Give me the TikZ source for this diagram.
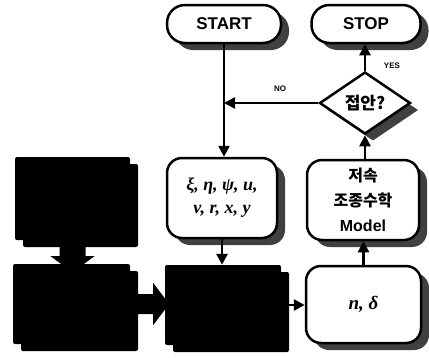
\documentclass[tikz,border=0pt]{standalone}
\usepackage{fontspec}
\setmainfont{Liberation Sans}
\newfontfamily\kr{Noto Sans CJK KR}
\newfontfamily\tms{Liberation Serif}
\usetikzlibrary{shapes.geometric,shadows,arrows.meta}
\begin{document}
\begin{tikzpicture}[x=1pt,y=-1pt,
  shad/.style={drop shadow={shadow xshift=8pt,shadow yshift=-7pt,fill=black!75,opacity=1}},
  term/.style={draw,line width=2.5pt,rounded corners=18pt,fill=white,shad,minimum width=114pt,minimum height=38pt,inner sep=0pt,font=\bfseries\fontsize{17}{18}\selectfont},
  proc/.style={draw,line width=2.5pt,rounded corners=15pt,fill=white,shad,align=center,inner sep=0pt},
  blk/.style={fill=black,inner sep=0pt,rounded corners=2pt,drop shadow={shadow xshift=8pt,shadow yshift=-7pt,fill=black,opacity=1}},
  dec/.style={diamond,draw,line width=2.5pt,fill=white,shad,inner sep=0pt,shape aspect=1.47,minimum width=91pt,minimum height=62pt,font=\fontsize{17}{18}\selectfont},
  arr/.style={line width=2.5pt,-{Triangle[width=11pt,length=11pt]}},
  fatarrow/.style={fill=black},
  lbl/.style={font=\bfseries\fontsize{8}{9}\selectfont}]
\useasboundingbox (0,0) rectangle (429,357);
\node[term] (start) at (224,24) {START};
\node[term,minimum width=109pt] (stop) at (366,24) {STOP};
\node[dec] (q) at (365,103) {\kr\bfseries 접안?};
\node[proc,minimum width=110pt,minimum height=80pt,font=\tms\bfseries\itshape\fontsize{18}{23}\selectfont] (st) at (222,198) {ξ, η, ψ, u,\\v,\ r,\ x, y};
\node[proc,minimum width=112pt,minimum height=80pt,font=\bfseries\fontsize{16}{25}\selectfont] (mdl) at (363,200) {{\kr\bfseries 저속}\\{\kr\bfseries 조종수학}\\Model};
\node[proc,minimum width=115pt,minimum height=77pt,font=\tms\bfseries\itshape\fontsize{19}{22}\selectfont] (nd) at (363.5,304.5) {n,\ δ};
\node[blk,minimum width=115pt,minimum height=83pt] (lt) at (72.5,198.5) {};
\node[blk,minimum width=117pt,minimum height=80pt] (lb) at (71.5,304) {};
\node[blk,minimum width=116pt,minimum height=80pt] (mb) at (223,305) {};
\draw[arr] (start.south) -- (start.south |- st.north);
\draw[arr] (q.west) -- (q.west -| start.south);
\node[lbl] (no) at (280,89) {NO};
\draw[arr] (q.north) -- (q.north |- stop.south);
\node[lbl] (yes) at (392,66) {YES};
\draw[arr] (q.south |- mdl.north) -- (q.south);
\draw[arr] (nd.north) -- (nd.north |- mdl.south);
\draw[arr] (st.south) -- (st.south |- mb.north);
\draw[arr] (mb.east) ++(8,0) coordinate (mbe) (mbe) -- (mbe -| nd.west);
\fill[fatarrow] (lt.south) ++(-13,0) -- ++(0,16) -- ++(-9,0) -- ++(22,16) -- ++(22,-16) -- ++(-9,0) -- ++(0,-16) -- cycle;
\fill[fatarrow] (lb.east) ++(0,-10) -- ++(23,0) -- ++(0,-11) -- ++(16,21) -- ++(-16,21) -- ++(0,-11) -- ++(-23,0) -- cycle;
\end{tikzpicture}
\end{document}
